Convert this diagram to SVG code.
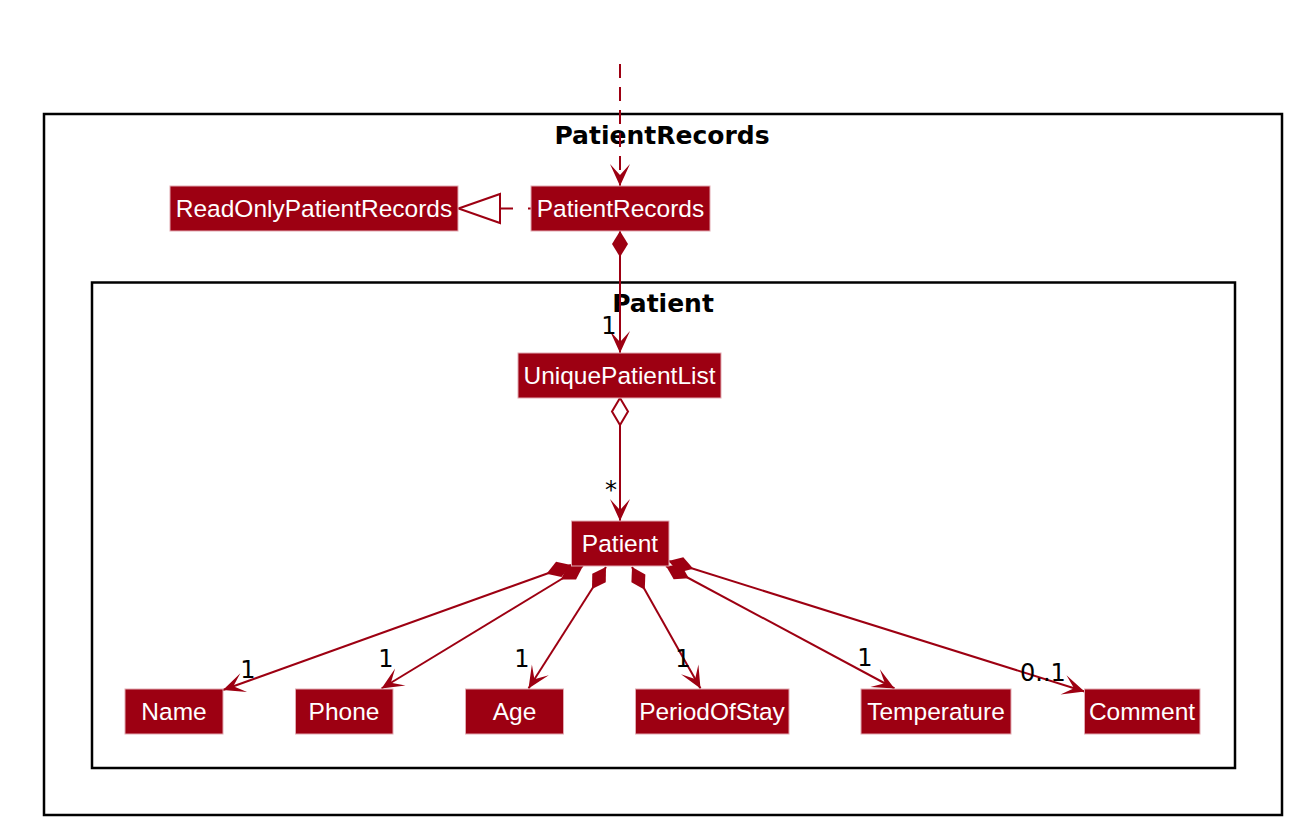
<svg xmlns="http://www.w3.org/2000/svg" width="1302" height="836" viewBox="0 0 1302 836">
<style>
.frame{fill:none;stroke:#000;stroke-width:2.5}
.title{font-family:"DejaVu Sans",sans-serif;font-weight:bold;font-size:25px;fill:#000;text-anchor:middle}
.box{fill:#9D0012;stroke:#E2A9B1;stroke-width:1}
.lbl{font-family:"Liberation Sans",Arial,sans-serif;font-size:24.5px;fill:#fff;text-anchor:middle}
.edge{fill:none;stroke:#9D0012;stroke-width:2}
.dash{stroke-dasharray:14,9}
.mult{font-family:"DejaVu Sans",sans-serif;font-size:24px;fill:#000;text-anchor:middle}
</style>
<defs>
<marker id="arrow" markerUnits="userSpaceOnUse" viewBox="-24 -12 26 24" refX="0" refY="0" markerWidth="26" markerHeight="24" orient="auto">
<polygon points="0,0 -22,-10 -11,0 -22,10" fill="#9D0012"/>
</marker>
<marker id="diamond" markerUnits="userSpaceOnUse" viewBox="-2 -10 30 20" refX="0" refY="0" markerWidth="30" markerHeight="20" orient="auto">
<polygon points="0,0 13,-8 26,0 13,8" fill="#9D0012"/>
</marker>
</defs>
<rect width="1302" height="836" fill="#fff"/>
<g id="pkg-PatientRecords">
<rect class="frame" x="44" y="114" width="1238" height="701"/>
<text class="title" x="662" y="144">PatientRecords</text>
</g>
<g id="pkg-Patient">
<rect class="frame" x="92" y="282.5" width="1143" height="485.5"/>
<text class="title" x="663" y="312">Patient</text>
</g>
<g id="connectors">
<line class="edge dash" x1="620" y1="64" x2="620" y2="186" marker-end="url(#arrow)"/>
<line class="edge" x1="500" y1="208.5" x2="531" y2="208.5" stroke-dasharray="13,15"/>
<polygon points="458.5,208.5 500,194 500,223" fill="#fff" stroke="#9D0012" stroke-width="2"/>
<line class="edge" x1="620" y1="231" x2="620" y2="353" marker-start="url(#diamond)" marker-end="url(#arrow)"/>
<polygon points="620,398 628,411.5 620,425 612,411.5" fill="#fff" stroke="#9D0012" stroke-width="2"/>
<line class="edge" x1="620" y1="425" x2="620" y2="521" marker-end="url(#arrow)"/>
<line class="edge" x1="571" y1="565" x2="223" y2="690" marker-start="url(#diamond)" marker-end="url(#arrow)"/>
<line class="edge" x1="583" y1="566" x2="381.5" y2="688.5" marker-start="url(#diamond)" marker-end="url(#arrow)"/>
<line class="edge" x1="606" y1="567" x2="528.5" y2="688.5" marker-start="url(#diamond)" marker-end="url(#arrow)"/>
<line class="edge" x1="632" y1="567" x2="700.5" y2="688.5" marker-start="url(#diamond)" marker-end="url(#arrow)"/>
<line class="edge" x1="666" y1="566" x2="894.5" y2="688.5" marker-start="url(#diamond)" marker-end="url(#arrow)"/>
<line class="edge" x1="668.5" y1="561" x2="1084.5" y2="691.5" marker-start="url(#diamond)" marker-end="url(#arrow)"/>
<text class="mult" x="609" y="334">1</text>
<text class="mult" x="611" y="498">*</text>
<text class="mult" x="248" y="678">1</text>
<text class="mult" x="386" y="667">1</text>
<text class="mult" x="522" y="667">1</text>
<text class="mult" x="683" y="667">1</text>
<text class="mult" x="865" y="666">1</text>
<text class="mult" x="1043" y="681">0..1</text>
</g>
<g id="ReadOnlyPatientRecords"><rect class="box" x="170" y="186" width="288" height="45"/><text class="lbl" x="314" y="217">ReadOnlyPatientRecords</text></g>
<g id="PatientRecords"><rect class="box" x="531" y="186" width="179" height="45"/><text class="lbl" x="620.5" y="217">PatientRecords</text></g>
<g id="UniquePatientList"><rect class="box" x="518" y="353" width="203" height="45"/><text class="lbl" x="619.5" y="384">UniquePatientList</text></g>
<g id="Patient"><rect class="box" x="571.5" y="521" width="97.5" height="45"/><text class="lbl" x="620" y="552">Patient</text></g>
<g id="Name"><rect class="box" x="125" y="689" width="98" height="45"/><text class="lbl" x="174" y="720">Name</text></g>
<g id="Phone"><rect class="box" x="295.5" y="689" width="97.5" height="45"/><text class="lbl" x="344" y="720">Phone</text></g>
<g id="Age"><rect class="box" x="465.5" y="689" width="98" height="45"/><text class="lbl" x="514.5" y="720">Age</text></g>
<g id="PeriodOfStay"><rect class="box" x="635.5" y="689" width="153.5" height="45"/><text class="lbl" x="712" y="720">PeriodOfStay</text></g>
<g id="Temperature"><rect class="box" x="861" y="689" width="150" height="45"/><text class="lbl" x="936" y="720">Temperature</text></g>
<g id="Comment"><rect class="box" x="1084.5" y="689" width="115.5" height="45"/><text class="lbl" x="1142" y="720">Comment</text></g>
</svg>
